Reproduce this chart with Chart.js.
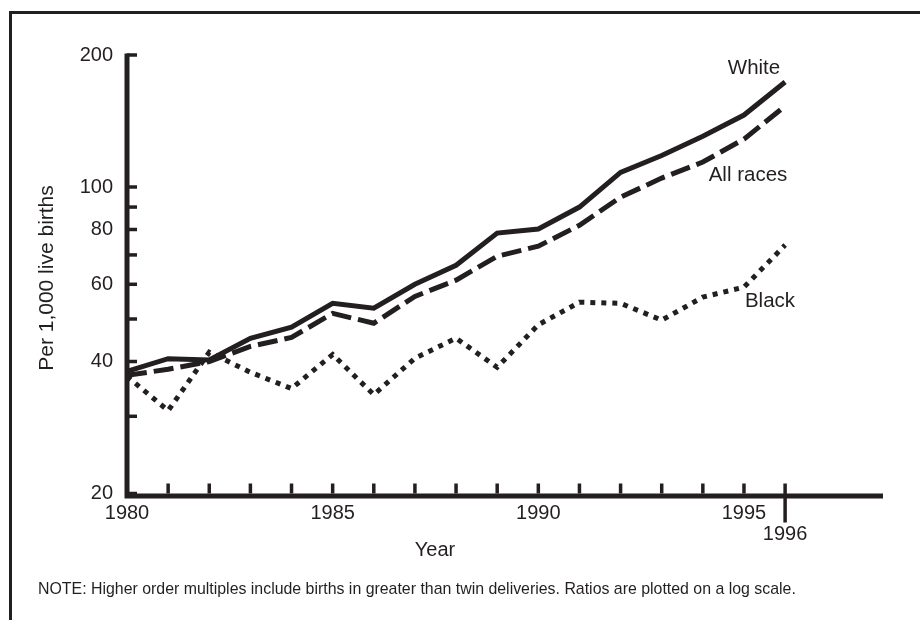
<!DOCTYPE html>
<html>
<head>
<meta charset="utf-8">
<script src="https://cdn.jsdelivr.net/npm/chart.js@4"></script>
<style>
  html, body { margin: 0; padding: 0; background: #fff; }
  #wrap { position: relative; width: 920px; height: 620px; }
</style>
</head>
<body>
<div id="wrap"><canvas id="chart" width="920" height="620"></canvas></div>
<script>
// Higher order multiple birth ratios, per 1,000 live births
const years = [1980, 1981, 1982, 1983, 1984, 1985, 1986, 1987, 1988, 1989, 1990, 1991, 1992, 1993, 1994, 1995, 1996];
const white = [38.0, 40.6, 40.3, 45.2, 47.9, 54.3, 52.9, 60.0, 66.3, 78.5, 80.2, 90.0, 108, 118, 130.6, 145.9, 173.6];
const allRaces = [37.2, 38.4, 40.0, 43.3, 45.4, 51.5, 48.9, 56.3, 61.3, 69.5, 73.3, 81.8, 94.8, 104.8, 114, 128.6, 153];
const black = [37.0, 30.9, 42.0, 37.8, 34.7, 41.5, 33.6, 40.7, 45.2, 38.8, 48.5, 54.6, 54.3, 49.7, 56.1, 59.1, 73.7];

const yTicks = [200, 100, 90, 80, 70, 60, 50, 40, 30, 20];
const yLabels = [200, 100, 80, 60, 40, 20];
const xLabels = [1980, 1985, 1990, 1995];

const ink = "#231f20";
const font = "Liberation Sans, Arial, Helvetica, sans-serif";

function pts(vals) {
  return years.map((y, i) => ({ x: y, y: vals[i] }));
}

const axesPlugin = {
  id: "printAxes",
  beforeDatasetsDraw(chart) {
    const ctx = chart.ctx;
    const xs = chart.scales.x;
    const ys = chart.scales.y;
    const area = chart.chartArea;
    const x0 = xs.getPixelForValue(1980);
    const yBase = ys.getPixelForValue(20);
    ctx.save();
    ctx.strokeStyle = ink;
    ctx.fillStyle = ink;

    // frame
    ctx.lineWidth = 3;
    ctx.beginPath();
    ctx.moveTo(10.5, 620);
    ctx.lineTo(10.5, 12.5);
    ctx.lineTo(920, 12.5);
    ctx.stroke();

    // axis lines
    ctx.lineWidth = 5;
    ctx.lineCap = "butt";
    ctx.beginPath();
    ctx.moveTo(x0, ys.getPixelForValue(200) - 1.5);
    ctx.lineTo(x0, yBase + 2.5);
    ctx.lineTo(area.right, yBase + 2.5);
    ctx.stroke();

    // y ticks
    ctx.lineWidth = 3.5;
    yTicks.forEach(v => {
      const p = ys.getPixelForValue(v);
      ctx.beginPath();
      ctx.moveTo(x0, p);
      ctx.lineTo(x0 + 10, p);
      ctx.stroke();
    });

    // x ticks
    for (let yr = 1981; yr <= 1996; yr++) {
      const p = xs.getPixelForValue(yr);
      ctx.beginPath();
      ctx.moveTo(p, yBase - 10);
      ctx.lineTo(p, yr === 1996 ? yBase + 29 : yBase);
      ctx.stroke();
    }

    // tick labels
    ctx.font = "20px " + font;
    ctx.textAlign = "right";
    ctx.textBaseline = "middle";
    yLabels.forEach(v => {
      ctx.fillText(String(v), x0 - 14, ys.getPixelForValue(v));
    });
    ctx.textAlign = "center";
    xLabels.forEach(v => {
      ctx.fillText(String(v), xs.getPixelForValue(v), yBase + 20);
    });
    ctx.fillText("1996", xs.getPixelForValue(1996), yBase + 41);

    // axis titles
    ctx.fillText("Year", 435, 550);
    ctx.save();
    ctx.font = "21px " + font;
    ctx.translate(47, 278);
    ctx.rotate(-Math.PI / 2);
    ctx.fillText("Per 1,000 live births", 0, 0);
    ctx.restore();

    // series labels
    ctx.font = "20.5px " + font;
    ctx.fillText("White", 754, 68);
    ctx.fillText("All races", 748, 175);
    ctx.fillText("Black", 770, 301);

    // note
    ctx.font = "15.9px " + font;
    ctx.textAlign = "left";
    ctx.fillText("NOTE: Higher order multiples include births in greater than twin deliveries. Ratios are plotted on a log scale.", 38, 590);
    ctx.restore();
  }
};

new Chart(document.getElementById("chart"), {
  type: "line",
  data: {
    datasets: [{
      label: "Black",
      data: pts(black),
      borderColor: ink,
      borderWidth: 5,
      borderDash: [5, 6],
      borderCapStyle: "butt",
      borderJoinStyle: "miter",
      pointRadius: 0,
      tension: 0
    }, {
      label: "All races",
      data: pts(allRaces),
      borderColor: ink,
      borderWidth: 5,
      borderDash: [20, 7],
      borderCapStyle: "butt",
      borderJoinStyle: "miter",
      pointRadius: 0,
      tension: 0
    }, {
      label: "White",
      data: pts(white),
      borderColor: ink,
      borderWidth: 5,
      borderCapStyle: "butt",
      borderJoinStyle: "miter",
      pointRadius: 0,
      tension: 0
    }]
  },
  options: {
    responsive: false,
    animation: false,
    devicePixelRatio: 1,
    layout: { padding: { left: 127, right: 37, top: 55, bottom: 126.5 } },
    plugins: {
      legend: { display: false },
      tooltip: { enabled: false }
    },
    scales: {
      x: { type: "linear", display: false, min: 1980, max: 1998.38 },
      y: { type: "logarithmic", display: false, min: 20, max: 200 }
    }
  },
  plugins: [axesPlugin]
});
</script>
</body>
</html>
